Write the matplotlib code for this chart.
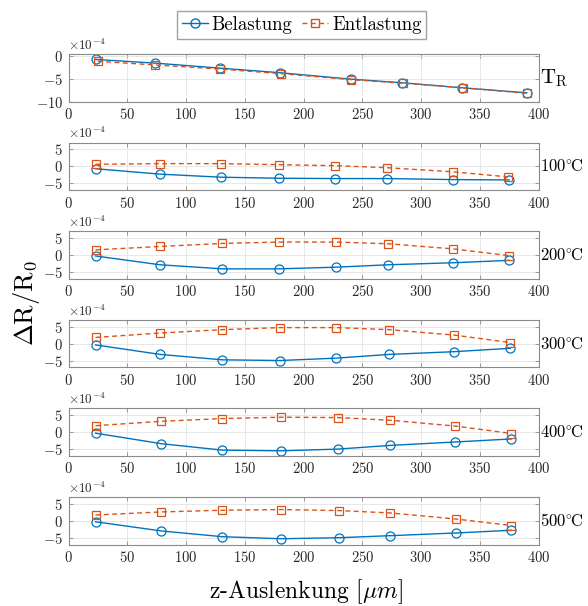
import numpy as np
import matplotlib
matplotlib.use('Agg')
import matplotlib.pyplot as plt
from matplotlib.lines import Line2D

plt.rcParams['font.family'] = 'serif'
plt.rcParams['font.serif'] = ['cmr10']
plt.rcParams['mathtext.fontset'] = 'cm'
plt.rcParams['axes.unicode_minus'] = False
plt.rcParams['axes.formatter.use_mathtext'] = True

# Werte in Einheiten von 1e-4
panel_labels = [r'$\mathrm{T_R}$', r'$100^{\circ}\!\mathrm{C}$', r'$200^{\circ}\!\mathrm{C}$',
                r'$300^{\circ}\!\mathrm{C}$', r'$400^{\circ}\!\mathrm{C}$', r'$500^{\circ}\!\mathrm{C}$']

x_bel = [
    [23, 74, 129, 180, 240, 284, 335, 390],
    [23, 78, 130, 179, 227, 271, 327, 375],
    [23, 78, 131, 179, 228, 272, 327, 375],
    [23, 78, 131, 180, 228, 273, 328, 376],
    [23, 79, 131, 181, 229, 274, 329, 377],
    [23, 79, 131, 181, 230, 274, 330, 377],
]
x_ent = [
    [25, 74, 129, 181, 240, 285, 336, 390],
    [23, 78, 130, 179, 227, 271, 327, 374],
    [23, 78, 131, 179, 228, 272, 327, 375],
    [23, 78, 131, 180, 228, 273, 328, 376],
    [23, 79, 131, 181, 229, 274, 329, 377],
    [23, 79, 131, 181, 230, 274, 330, 377],
]
belastung = [
    [-0.8, -1.6, -2.7, -3.7, -5.1, -5.9, -7.0, -8.1],
    [-0.7, -2.3, -3.2, -3.5, -3.6, -3.6, -3.9, -4.0],
    [-0.3, -2.9, -4.1, -4.1, -3.6, -2.9, -2.3, -1.6],
    [-0.4, -3.2, -4.8, -5.0, -4.3, -3.2, -2.4, -1.4],
    [-0.3, -3.4, -5.3, -5.5, -5.0, -3.9, -2.9, -2.0],
    [-0.3, -3.0, -4.7, -5.3, -5.0, -4.4, -3.6, -2.8],
]
entlastung = [
    [-1.2, -2.0, -2.9, -3.9, -5.2, -6.0, -7.0, -8.2],
    [0.6, 0.8, 0.8, 0.5, 0.2, -0.4, -1.6, -3.1],
    [1.5, 2.5, 3.4, 3.8, 3.8, 3.3, 1.8, -0.2],
    [1.8, 3.1, 4.1, 4.7, 4.7, 4.1, 2.5, 0.3],
    [1.9, 3.2, 4.0, 4.4, 4.3, 3.5, 1.8, -0.4],
    [1.7, 2.6, 3.1, 3.3, 3.0, 2.3, 0.5, -1.4],
]

blue = '#0072BD'
orange = '#D95319'
W, H = 588, 606
fig = plt.figure(figsize=(W / 100, H / 100), dpi=100)

left, right = 68.5, 538.5
for i in range(6):
    top = 54 + 88.6 * i
    bot = top + 47.5
    ax = fig.add_axes([left / W, 1 - bot / H, (right - left) / W, (bot - top) / H])
    ax.plot(np.array(x_bel[i]), np.array(belastung[i]) * 1e-4, '-o', color=blue,
            lw=1.0, ms=6.5, mfc='none', mew=0.9)
    ax.plot(np.array(x_ent[i]), np.array(entlastung[i]) * 1e-4, '--s', color=orange,
            lw=1.0, ms=5.5, mfc='none', mew=0.9, dashes=(3.5, 2.5))
    ax.set_xlim(0, 400)
    ax.set_xticks(range(0, 401, 50))
    if i == 0:
        ax.set_ylim(-10e-4, 0.4e-4)
        ax.set_yticks([-10e-4, -5e-4, 0])
    else:
        ax.set_ylim(-7e-4, 7e-4)
        ax.set_yticks([-5e-4, 0, 5e-4])
    ax.ticklabel_format(axis='y', style='sci', scilimits=(-4, -4), useMathText=True)
    ax.yaxis.get_offset_text().set_fontsize(9.5)
    ax.yaxis.get_offset_text().set_color('#262626')
    ax.grid(True, color='#e3e3e3', lw=0.6)
    ax.set_axisbelow(True)
    for s in ax.spines.values():
        s.set_color('#8a8a8a')
        s.set_linewidth(0.8)
    ax.tick_params(direction='in', length=3, width=0.6, color='#8a8a8a',
                   labelsize=10.5, labelcolor='#262626', top=True, right=True, pad=4)
    ax.text(1.003, 0.5, panel_labels[i], transform=ax.transAxes,
            fontsize=15 if i == 0 else 12, va='center', ha='left')

fig.text(0.045, 0.5, r'$\Delta\mathrm{R}/\mathrm{R}_0$', rotation=90, fontsize=19,
         va='center', ha='center')
fig.text(0.52, 0.023, r'z-Auslenkung $[\mu m]$', fontsize=17, va='center', ha='center')

handles = [
    Line2D([], [], color=blue, ls='-', marker='o', mfc='none', ms=6.5, lw=1.0),
    Line2D([], [], color=orange, ls='--', marker='s', mfc='none', ms=5.5, lw=1.0, dashes=(3.5, 2.5)),
]
fig.legend(handles, ['Belastung', 'Entlastung'], loc='upper center',
           bbox_to_anchor=(0.513, 0.997), ncol=2, fontsize=13.5, frameon=True,
           fancybox=False, edgecolor='#8a8a8a', handlelength=1.4, handletextpad=0.2,
           columnspacing=0.5, borderpad=0.25)

fig.savefig('out.png', dpi=100)
